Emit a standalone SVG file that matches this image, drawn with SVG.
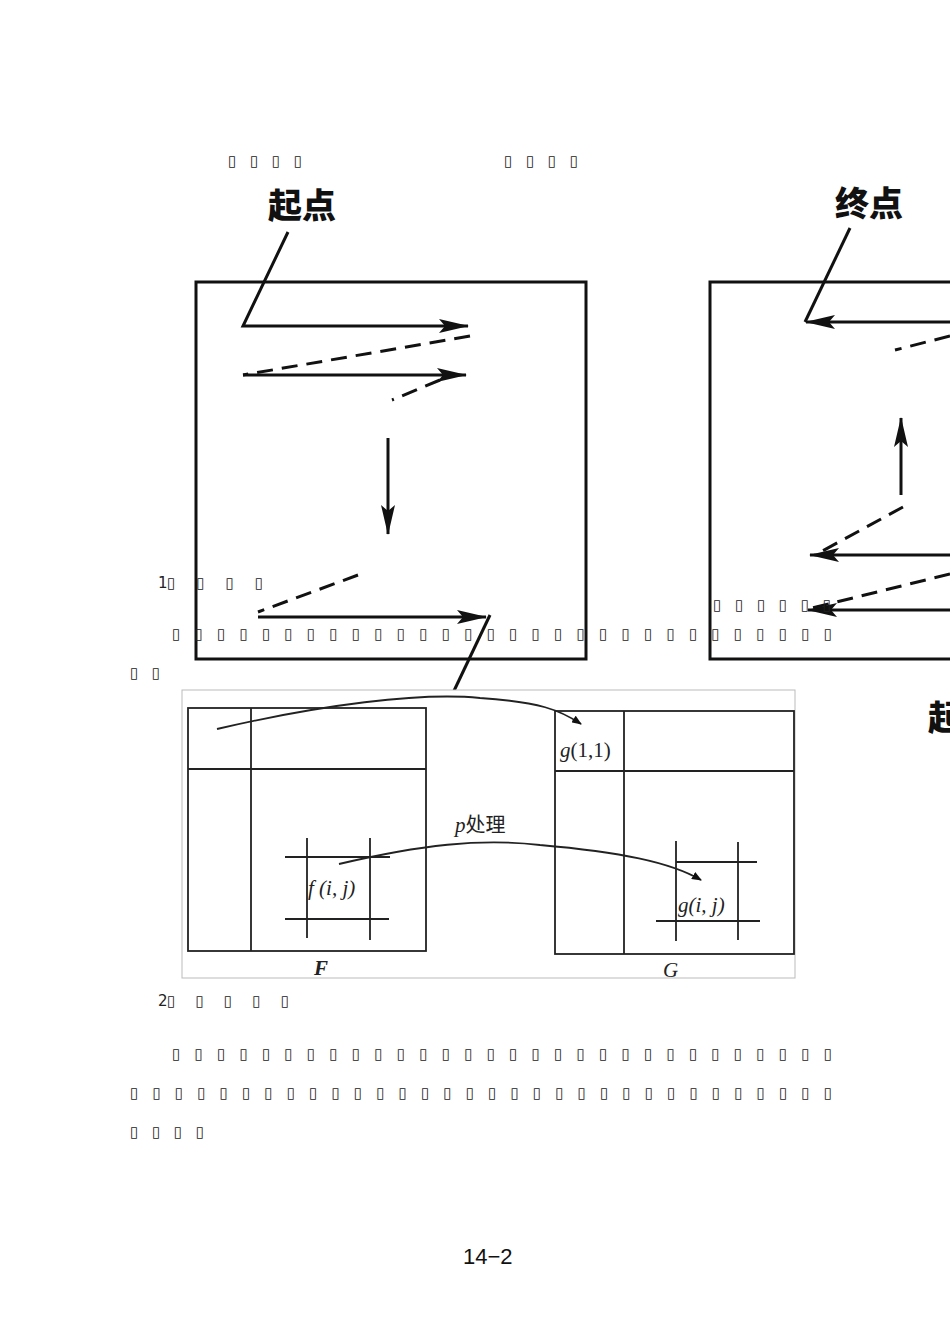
<svg xmlns="http://www.w3.org/2000/svg" width="950" height="1343" viewBox="0 0 950 1343">
<style>
.k{stroke:#111;fill:none;stroke-width:3}
.d{stroke:#111;fill:none;stroke-width:3;stroke-dasharray:16 9}
.t{stroke:#222;fill:none;stroke-width:1.8}
.tf{font-family:"DejaVu Sans",sans-serif;font-size:15px;fill:#222}
.big{font-family:"Noto Sans CJK SC",sans-serif;font-weight:900;font-size:34px;fill:#111}
.m{font-family:"Liberation Serif",serif;font-style:italic;font-size:21px;fill:#222}
</style>
<defs>
<marker id="a" markerWidth="10" markerHeight="8" refX="9" refY="4" orient="auto" markerUnits="userSpaceOnUse" viewBox="0 0 10 8"><path d="M0,0 L10,4 L0,8 Z" fill="#111"/></marker>
<marker id="A" viewBox="0 0 30 14" markerWidth="30" markerHeight="14" refX="29" refY="7" orient="auto" markerUnits="userSpaceOnUse"><path d="M0,0 L30,7 L0,14 L6,7 Z" fill="#111"/></marker>
</defs>
<rect width="950" height="1343" fill="#fff"/>
<g id="scan-left">
<text class="big" x="268" y="218">起点</text>
<rect class="k" x="196" y="282" width="390" height="377"/>
<g id="connectors-left">
<path class="k" d="M288,232 L243,326 L468,326" marker-end="url(#A)"/>
<path class="d" d="M470,336 L243,375"/>
<path class="k" d="M243,375 L466,375" marker-end="url(#A)"/>
<path class="d" d="M440,380 L392,400"/>
<path class="k" d="M388,438 L388,534" marker-end="url(#A)"/>
<path class="d" d="M358,575 L258,612"/>
<path class="k" d="M258,617 L486,617" marker-end="url(#A)"/>
<path class="k" d="M490,615 L452,695"/>
</g>
</g>
<g id="scan-right">
<text class="big" x="835" y="216">终点</text>
<path class="k" d="M950,282 L710,282 L710,659 L950,659"/>
<g id="connectors-right">
<path class="k" d="M850,228 L805,322"/>
<path class="k" d="M950,322 L806,322" marker-end="url(#A)"/>
<path class="d" d="M950,336 L895,350"/>
<path class="k" d="M901,495 L901,418" marker-end="url(#A)"/>
<path class="d" d="M903,507 L815,555"/>
<path class="k" d="M950,555 L810,555" marker-end="url(#A)"/>
<path class="d" d="M950,574 L812,608"/>
<path class="k" d="M950,610 L808,610" marker-end="url(#A)"/>
</g>
<text class="big" x="928" y="730">起</text>
</g>
<text class="tf" x="228" y="166" textLength="74">▯ ▯ ▯ ▯</text>
<text class="tf" x="504" y="166" textLength="74">▯ ▯ ▯ ▯</text>
<text class="tf" x="158" y="588" font-family="Liberation Serif" font-size="18">1</text>
<text class="tf" x="167" y="588" textLength="96">▯ ▯ ▯ ▯</text>
<text class="tf" x="713" y="610" textLength="118">▯ ▯ ▯ ▯ ▯ ▯</text>
<text class="tf" x="172" y="639" textLength="660">▯ ▯ ▯ ▯ ▯ ▯ ▯ ▯ ▯ ▯ ▯ ▯ ▯ ▯ ▯ ▯ ▯ ▯ ▯ ▯ ▯ ▯ ▯ ▯ ▯ ▯ ▯ ▯ ▯ ▯</text>
<text class="tf" x="130" y="678" textLength="30">▯ ▯</text>
<g id="fig2">
<rect x="182" y="690" width="613" height="288" fill="#fff" stroke="#bbb" stroke-width="1"/>
<g id="F">
<rect class="t" x="188" y="708" width="238" height="243"/>
<path class="t" d="M251,708 V951 M188,769 H426 M285,857 H390 M285,919 H389 M307,838 V938 M370,838 V940"/>
<text class="m" x="308" y="895">f (i, j)</text>
<text class="m" x="314" y="975" font-weight="bold" font-size="19">F</text>
</g>
<g id="G">
<rect class="t" x="555" y="711" width="239" height="243"/>
<path class="t" d="M624,711 V954 M555,771 H794 M676,841 V941 M738,842 V940 M676,862 H757 M656,921 H760"/>
<text class="m" x="560" y="757">g<tspan font-style="normal">(1,1)</tspan></text>
<text class="m" x="678" y="912">g(i, j)</text>
<text class="m" x="663" y="977" font-size="19">G</text>
</g>
<g id="connectors-fig2">
<path class="t" d="M217,729 C320,705 420,692 480,698 C540,702 560,710 581,724" marker-end="url(#a)"/>
<path class="t" d="M339,864 C420,845 480,838 540,845 C620,852 670,862 701,880" marker-end="url(#a)"/>
</g>
<text class="m" x="455" y="832"><tspan>p</tspan><tspan font-style="normal" font-family="Noto Sans CJK SC,sans-serif" font-size="20">处理</tspan></text>
</g>
<text class="tf" x="158" y="1006" font-family="Liberation Serif" font-size="18">2</text>
<text class="tf" x="167" y="1006" textLength="122">▯ ▯ ▯ ▯ ▯</text>
<text class="tf" x="172" y="1059" textLength="660">▯ ▯ ▯ ▯ ▯ ▯ ▯ ▯ ▯ ▯ ▯ ▯ ▯ ▯ ▯ ▯ ▯ ▯ ▯ ▯ ▯ ▯ ▯ ▯ ▯ ▯ ▯ ▯ ▯ ▯</text>
<text class="tf" x="130" y="1098" textLength="702">▯ ▯ ▯ ▯ ▯ ▯ ▯ ▯ ▯ ▯ ▯ ▯ ▯ ▯ ▯ ▯ ▯ ▯ ▯ ▯ ▯ ▯ ▯ ▯ ▯ ▯ ▯ ▯ ▯ ▯ ▯ ▯</text>
<text class="tf" x="130" y="1137" textLength="74">▯ ▯ ▯ ▯</text>
<text x="463" y="1264" font-family="Liberation Sans,sans-serif" font-size="22" fill="#111">14−2</text>
</svg>
